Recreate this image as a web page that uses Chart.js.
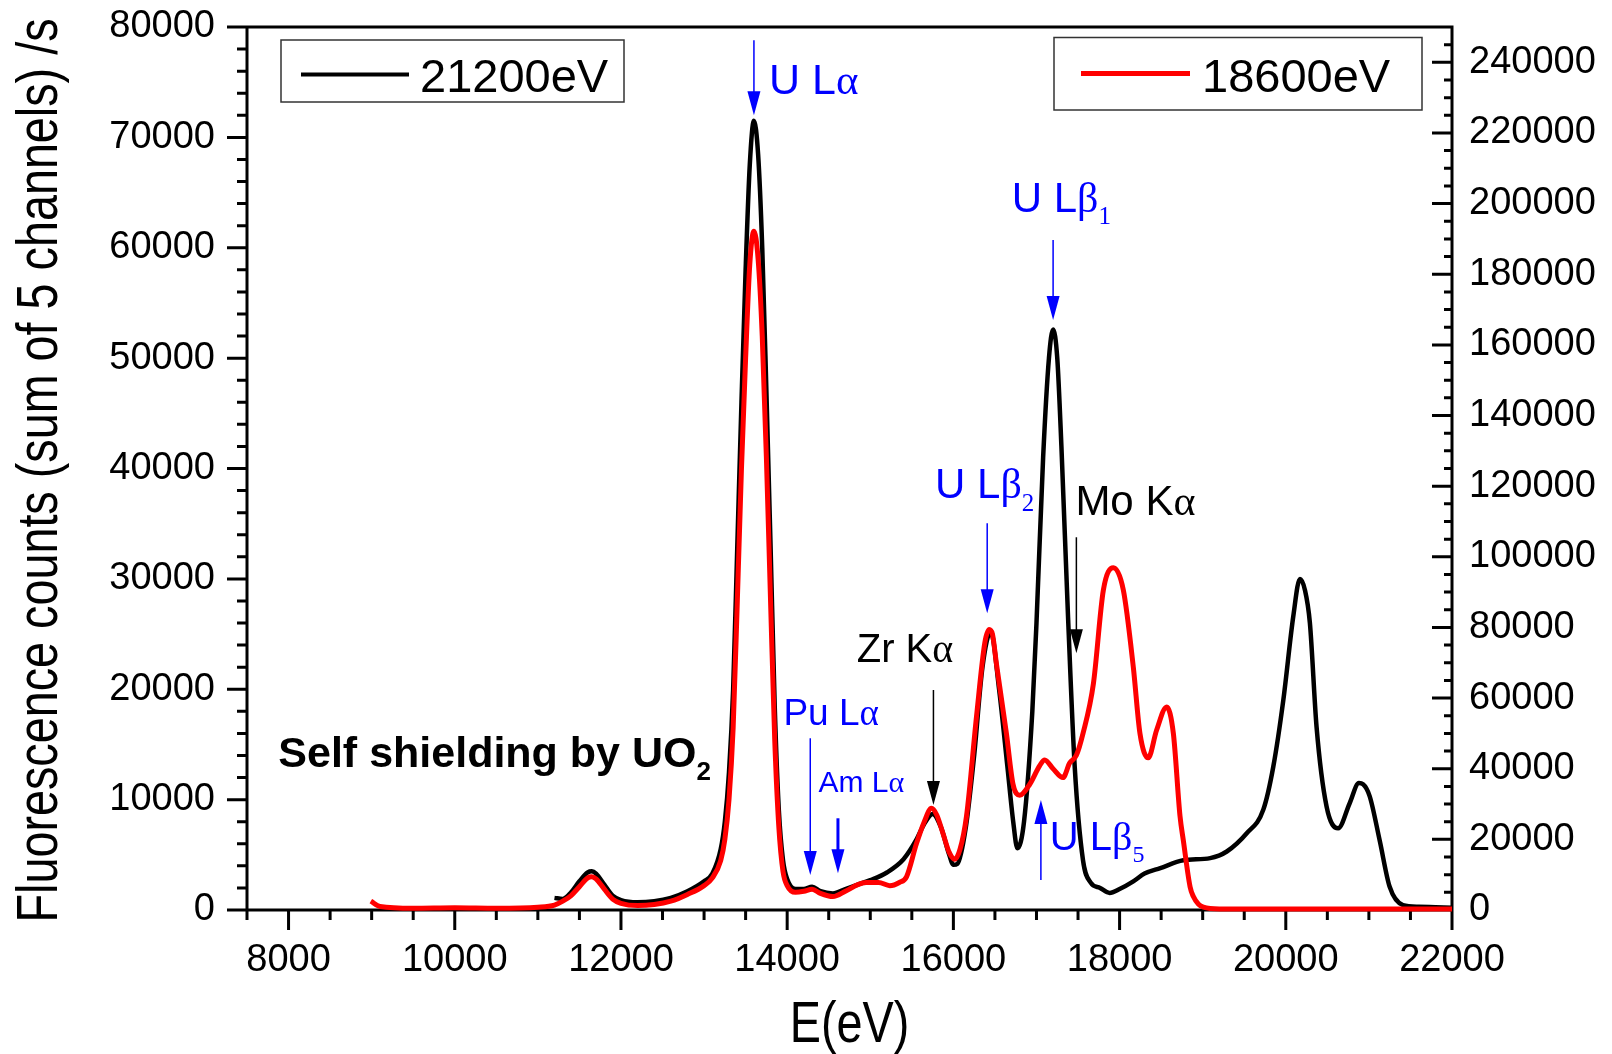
<!DOCTYPE html>
<html>
<head>
<meta charset="utf-8">
<script src="https://cdn.jsdelivr.net/npm/chart.js@4.4.0/dist/chart.umd.min.js"></script>
<style>
  html, body { margin: 0; padding: 0; background: #fff; }
  #wrap { width: 1612px; height: 1054px; position: relative; }
</style>
</head>
<body>
<div id="wrap"><canvas id="spectrum"></canvas></div>
<script>
// 21200eV excitation (left axis), energy in eV and counts
const blackEnergy = [11200, 11300, 11400, 11500, 11600, 11650, 11700, 11800, 11900, 12000, 12200, 12400, 12600, 12800,
  13000, 13100, 13200, 13250, 13300, 13350, 13400, 13450, 13500, 13550, 13600, 13650, 13700, 13750, 13800, 13850, 13900,
  13950, 14000, 14100, 14200, 14300, 14400, 14550, 14700, 14850, 15000, 15200, 15400, 15550, 15650, 15750, 15850, 15950,
  16000, 16050, 16150, 16250, 16350, 16450, 16550, 16650, 16720, 16770, 16850, 16950, 17000, 17080, 17150, 17200, 17250,
  17300, 17380, 17460, 17560, 17650, 17765, 17880, 18000, 18165, 18300, 18490, 18767, 19090, 19290, 19530, 19730, 19850,
  19970, 20090, 20170, 20230, 20290, 20370, 20490, 20630, 20770, 20880, 20930, 21010, 21130, 21250, 21410, 21600, 21800, 22000];
const blackCounts = [1100, 1000, 1600, 2600, 3400, 3500, 3300, 2300, 1300, 900, 700, 800, 1100, 1700,
  2600, 3300, 5500, 8000, 12500, 20000, 33000, 46000, 58000, 67500, 71500, 68500, 60000, 47000, 33000, 18500, 9000,
  4500, 2800, 1900, 1900, 2100, 1700, 1500, 1900, 2300, 2700, 3400, 4600, 6300, 7800, 8700, 7500, 5000,
  4100, 4200, 7500, 14000, 22000, 25200, 20000, 13000, 8000, 5600, 8000, 18000, 26000, 41000, 50000, 52600, 50000,
  42000, 26500, 13000, 4500, 2500, 2000, 1550, 1900, 2600, 3300, 3800, 4500, 4700, 5300, 6950, 9100, 13000,
  19000, 26600, 30000, 29000, 26000, 16600, 9400, 7400, 9700, 11500, 11400, 10300, 6300, 2100, 450, 300, 250, 200];

// 18600eV excitation (right axis)
const redEnergy = [8990, 9100, 9500, 10000, 10500, 11000, 11200, 11300, 11400, 11500, 11600, 11650, 11700, 11800, 11900,
  12000, 12200, 12400, 12600, 12800, 13000, 13100, 13200, 13250, 13300, 13350, 13400, 13450, 13500, 13550, 13600, 13650,
  13700, 13750, 13800, 13850, 13900, 13950, 14000, 14100, 14200, 14300, 14400, 14550, 14700, 14850, 14950, 15100, 15235,
  15350, 15436, 15556, 15650, 15736, 15800, 15876, 15950, 16017, 16080, 16158, 16278, 16378, 16430, 16470, 16518, 16638,
  16718, 16798, 16919, 17039, 17099, 17200, 17319, 17399, 17480, 17560, 17685, 17805, 17925, 18045, 18165, 18245, 18345,
  18445, 18567, 18647, 18727, 18767, 18848, 18888, 18950, 19008, 19200, 20000, 22000];
const redCounts = [2500, 1000, 500, 650, 500, 800, 1400, 2500, 4100, 6600, 9100, 9400, 8800, 5900, 3100,
  1900, 1250, 1550, 2500, 4400, 6900, 9100, 14000, 20000, 31300, 51600, 87500, 125000, 156300, 182800, 192200, 184400,
  162500, 128100, 87500, 48400, 23400, 10900, 6900, 5000, 5300, 5900, 4700, 3800, 5300, 7200, 7800, 7800, 6900,
  7800, 9400, 18800, 25000, 28800, 26900, 21600, 16300, 14400, 17200, 26600, 54700, 75600, 79400, 78100, 69700, 50000,
  35600, 32500, 35600, 40900, 42500, 40000, 37500, 41600, 43800, 50000, 64100, 90600, 96900, 90600, 68800, 50000, 43100,
  50900, 57500, 50000, 26600, 19700, 6600, 3800, 1600, 800, 300, 300, 300];

const xTicks = [8000, 10000, 12000, 14000, 16000, 18000, 20000, 22000];
const leftTicks = [0, 10000, 20000, 30000, 40000, 50000, 60000, 70000, 80000];
const rightTicks = [0, 20000, 40000, 60000, 80000, 100000, 120000, 140000, 160000, 180000, 200000, 220000, 240000];

const SANS = "'Liberation Sans', Arial, sans-serif";
const SERIF = "'Liberation Serif', 'Times New Roman', serif";
const BLUE = '#0000ff';

// peak labels, placed in data units (energy, left-axis counts)
const peakLabels = [
  { parts: [{ t: 'U L' }, { t: 'α', serif: true }], size: 43, color: BLUE, at: [13781, 73900], arrow: [13600, 78800, 72000], lw: 1.5 },
  { parts: [{ t: 'U L' }, { t: 'β', serif: true }, { t: '1', serif: true, sub: true }], size: 42, color: BLUE, at: [16702, 63270], arrow: [17200, 60700, 53450], lw: 1.5 },
  { parts: [{ t: 'U L' }, { t: 'β', serif: true }, { t: '2', serif: true, sub: true }], size: 42, color: BLUE, at: [15780, 37300], arrow: [16407, 35030, 26880], lw: 1.5 },
  { parts: [{ t: 'Mo K' }, { t: 'α', serif: true }], size: 42, color: '#000', at: [17468, 35790], arrow: [17480, 33770, 23260], lw: 1.5 },
  { parts: [{ t: 'Zr K' }, { t: 'α', serif: true }], size: 40, color: '#000', at: [14837, 22500], arrow: [15760, 19930, 9510], lw: 1.5 },
  { parts: [{ t: 'Pu L' }, { t: 'α', serif: true }], size: 37, color: BLUE, at: [13955, 16760], arrow: [14278, 15560, 3170], lw: 1.5 },
  { parts: [{ t: 'Am L' }, { t: 'α', serif: true }], size: 30, color: BLUE, at: [14377, 10720], arrow: [14611, 8310, 3320], lw: 3 },
  { parts: [{ t: 'U L' }, { t: 'β', serif: true }, { t: '5', serif: true, sub: true }], size: 40, color: BLUE, at: [17161, 5440], arrow: [17053, 2720, 9970], lw: 1.5 },
  { parts: [{ t: 'Self shielding by UO' }, { t: '2', sub: true }], size: 43, bold: true, color: '#000', at: [7877, 12930] }
];

const toPoints = (xs, ys) => xs.map((x, i) => ({ x: x, y: ys[i] }));

// keep the plot box where the original has it: no extra room for overflowing labels
function fixBox(size) {
  return s => {
    if (s.isHorizontal()) s.height = size; else s.width = size;
    s.paddingTop = 0; s.paddingBottom = 0; s.paddingLeft = 0; s.paddingRight = 0;
  };
}

// frame and tick marks (minor ticks are not built into Chart.js)
const axisFrame = {
  id: 'axisFrame',
  beforeDatasetsDraw(chart) {
    const { ctx, chartArea: a, scales } = chart;
    ctx.save();
    ctx.strokeStyle = '#000';
    ctx.lineWidth = 3;
    ctx.beginPath();
    ctx.rect(a.left, a.top, a.right - a.left, a.bottom - a.top);
    for (let v = 7500; v <= 22000; v += 500) {
      const px = scales.x.getPixelForValue(v);
      ctx.moveTo(px, a.bottom);
      ctx.lineTo(px, a.bottom + (v % 2000 === 0 ? 20 : 10));
    }
    for (let v = 0; v <= 80000; v += 2000) {
      const py = scales.yLeft.getPixelForValue(v);
      ctx.moveTo(a.left, py);
      ctx.lineTo(a.left - (v % 10000 === 0 ? 20 : 10), py);
    }
    for (let v = 0; v <= 250000; v += 5000) {
      const py = scales.yRight.getPixelForValue(v);
      ctx.moveTo(a.right, py);
      ctx.lineTo(a.right - (v % 20000 === 0 ? 20 : 8), py);
    }
    ctx.stroke();
    ctx.restore();
  },
  afterDraw(chart) {
    const { ctx, chartArea: a } = chart;
    ctx.save();
    ctx.fillStyle = '#000';
    ctx.font = '57px ' + SANS;
    // axis titles are narrow Arial in the original
    ctx.textAlign = 'center';
    ctx.textBaseline = 'alphabetic';
    ctx.save();
    ctx.translate((a.left + a.right) / 2, 1042);
    ctx.scale(0.82, 1);
    ctx.fillText('E(eV)', 0, 0);
    ctx.restore();
    ctx.save();
    ctx.translate(57, (a.top + a.bottom) / 2 + 2);
    ctx.rotate(-Math.PI / 2);
    ctx.scale(0.82, 1);
    ctx.fillText('Fluorescence counts (sum of 5 channels) /s', 0, 0);
    ctx.restore();
    ctx.restore();
  }
};

function drawParts(ctx, item, x, y) {
  let cx = x;
  for (const p of item.parts) {
    const size = p.sub ? Math.round(item.size * 0.6) : item.size;
    ctx.font = (item.bold ? 'bold ' : '') + size + 'px ' + (p.serif ? SERIF : SANS);
    ctx.fillText(p.t, cx, y + (p.sub ? item.size * 0.3 : 0));
    cx += ctx.measureText(p.t).width;
  }
}

const peakMarks = {
  id: 'peakMarks',
  afterDatasetsDraw(chart) {
    const { ctx, scales } = chart;
    const xs = scales.x, ys = scales.yLeft;
    ctx.save();
    ctx.textAlign = 'left';
    ctx.textBaseline = 'alphabetic';
    peakLabels.forEach(item => {
      ctx.fillStyle = item.color;
      ctx.strokeStyle = item.color;
      drawParts(ctx, item, xs.getPixelForValue(item.at[0]), ys.getPixelForValue(item.at[1]));
      if (!item.arrow) return;
      const ax = xs.getPixelForValue(item.arrow[0]);
      const y0 = ys.getPixelForValue(item.arrow[1]);
      const y1 = ys.getPixelForValue(item.arrow[2]);
      const dir = y1 > y0 ? 1 : -1;
      const head = 24;
      ctx.lineWidth = item.lw;
      ctx.beginPath();
      ctx.moveTo(ax, y0);
      ctx.lineTo(ax, y1 - dir * head * 0.8);
      ctx.stroke();
      ctx.beginPath();
      ctx.moveTo(ax, y1);
      ctx.lineTo(ax - 6.5, y1 - dir * head);
      ctx.lineTo(ax + 6.5, y1 - dir * head);
      ctx.closePath();
      ctx.fill();
    });
    ctx.restore();
  }
};

// two separate legend boxes, one near each axis
const legendBoxes = {
  id: 'legendBoxes',
  afterDraw(chart) {
    const { ctx } = chart;
    const sets = chart.data.datasets;
    const black = sets[1], red = sets[0];
    ctx.save();
    ctx.strokeStyle = '#333';
    ctx.lineWidth = 1.5;
    ctx.strokeRect(281, 40, 343, 62);
    ctx.strokeRect(1054, 37.5, 368, 72.5);
    ctx.lineWidth = 4;
    ctx.strokeStyle = black.borderColor;
    ctx.beginPath(); ctx.moveTo(301, 74.5); ctx.lineTo(409, 74.5); ctx.stroke();
    ctx.lineWidth = 5;
    ctx.strokeStyle = red.borderColor;
    ctx.beginPath(); ctx.moveTo(1081, 73.5); ctx.lineTo(1190, 73.5); ctx.stroke();
    ctx.fillStyle = '#000';
    ctx.font = '47px ' + SANS;
    ctx.textBaseline = 'alphabetic';
    ctx.fillText(black.label, 420, 92);
    ctx.fillText(red.label, 1202, 92);
    ctx.restore();
  }
};

const tickFont = { family: SANS, size: 38 };
const noGrid = { display: false, drawTicks: false };

const ctx = document.getElementById('spectrum').getContext('2d');
new Chart(ctx, {
  type: 'line',
  data: {
    datasets: [
      {
        label: '18600eV',
        data: toPoints(redEnergy, redCounts),
        yAxisID: 'yRight',
        borderColor: '#ff0000',
        borderWidth: 5,
        order: 0
      },
      {
        label: '21200eV',
        data: toPoints(blackEnergy, blackCounts),
        yAxisID: 'yLeft',
        borderColor: '#000000',
        borderWidth: 4.5,
        order: 1
      }
    ]
  },
  options: {
    responsive: true,
    maintainAspectRatio: false,
    animation: false,
    clip: false,
    layout: { padding: { top: 27, left: 0, right: 0, bottom: 0 } },
    elements: {
      point: { radius: 0 },
      line: { cubicInterpolationMode: 'monotone', fill: false }
    },
    plugins: { legend: { display: false }, tooltip: { enabled: false } },
    scales: {
      x: {
        type: 'linear',
        min: 7500,
        max: 22000,
        grid: noGrid,
        border: { display: false },
        afterBuildTicks: s => { s.ticks = xTicks.map(v => ({ value: v })); },
        afterFit: fixBox(144),
        ticks: { font: tickFont, color: '#000', padding: 28, maxRotation: 0, autoSkip: false, callback: v => String(v) }
      },
      yLeft: {
        position: 'left',
        min: 0,
        max: 80000,
        grid: noGrid,
        border: { display: false },
        afterBuildTicks: s => { s.ticks = leftTicks.map(v => ({ value: v })); },
        afterFit: fixBox(247),
        ticks: { font: tickFont, color: '#000', padding: 32, autoSkip: false, callback: v => String(v) }
      },
      yRight: {
        position: 'right',
        min: 0,
        max: 250000,
        grid: noGrid,
        border: { display: false },
        afterBuildTicks: s => { s.ticks = rightTicks.map(v => ({ value: v })); },
        afterFit: fixBox(160),
        ticks: { font: tickFont, color: '#000', padding: 17, autoSkip: false, callback: v => String(v) }
      }
    }
  },
  plugins: [axisFrame, peakMarks, legendBoxes]
});
</script>
</body>
</html>
